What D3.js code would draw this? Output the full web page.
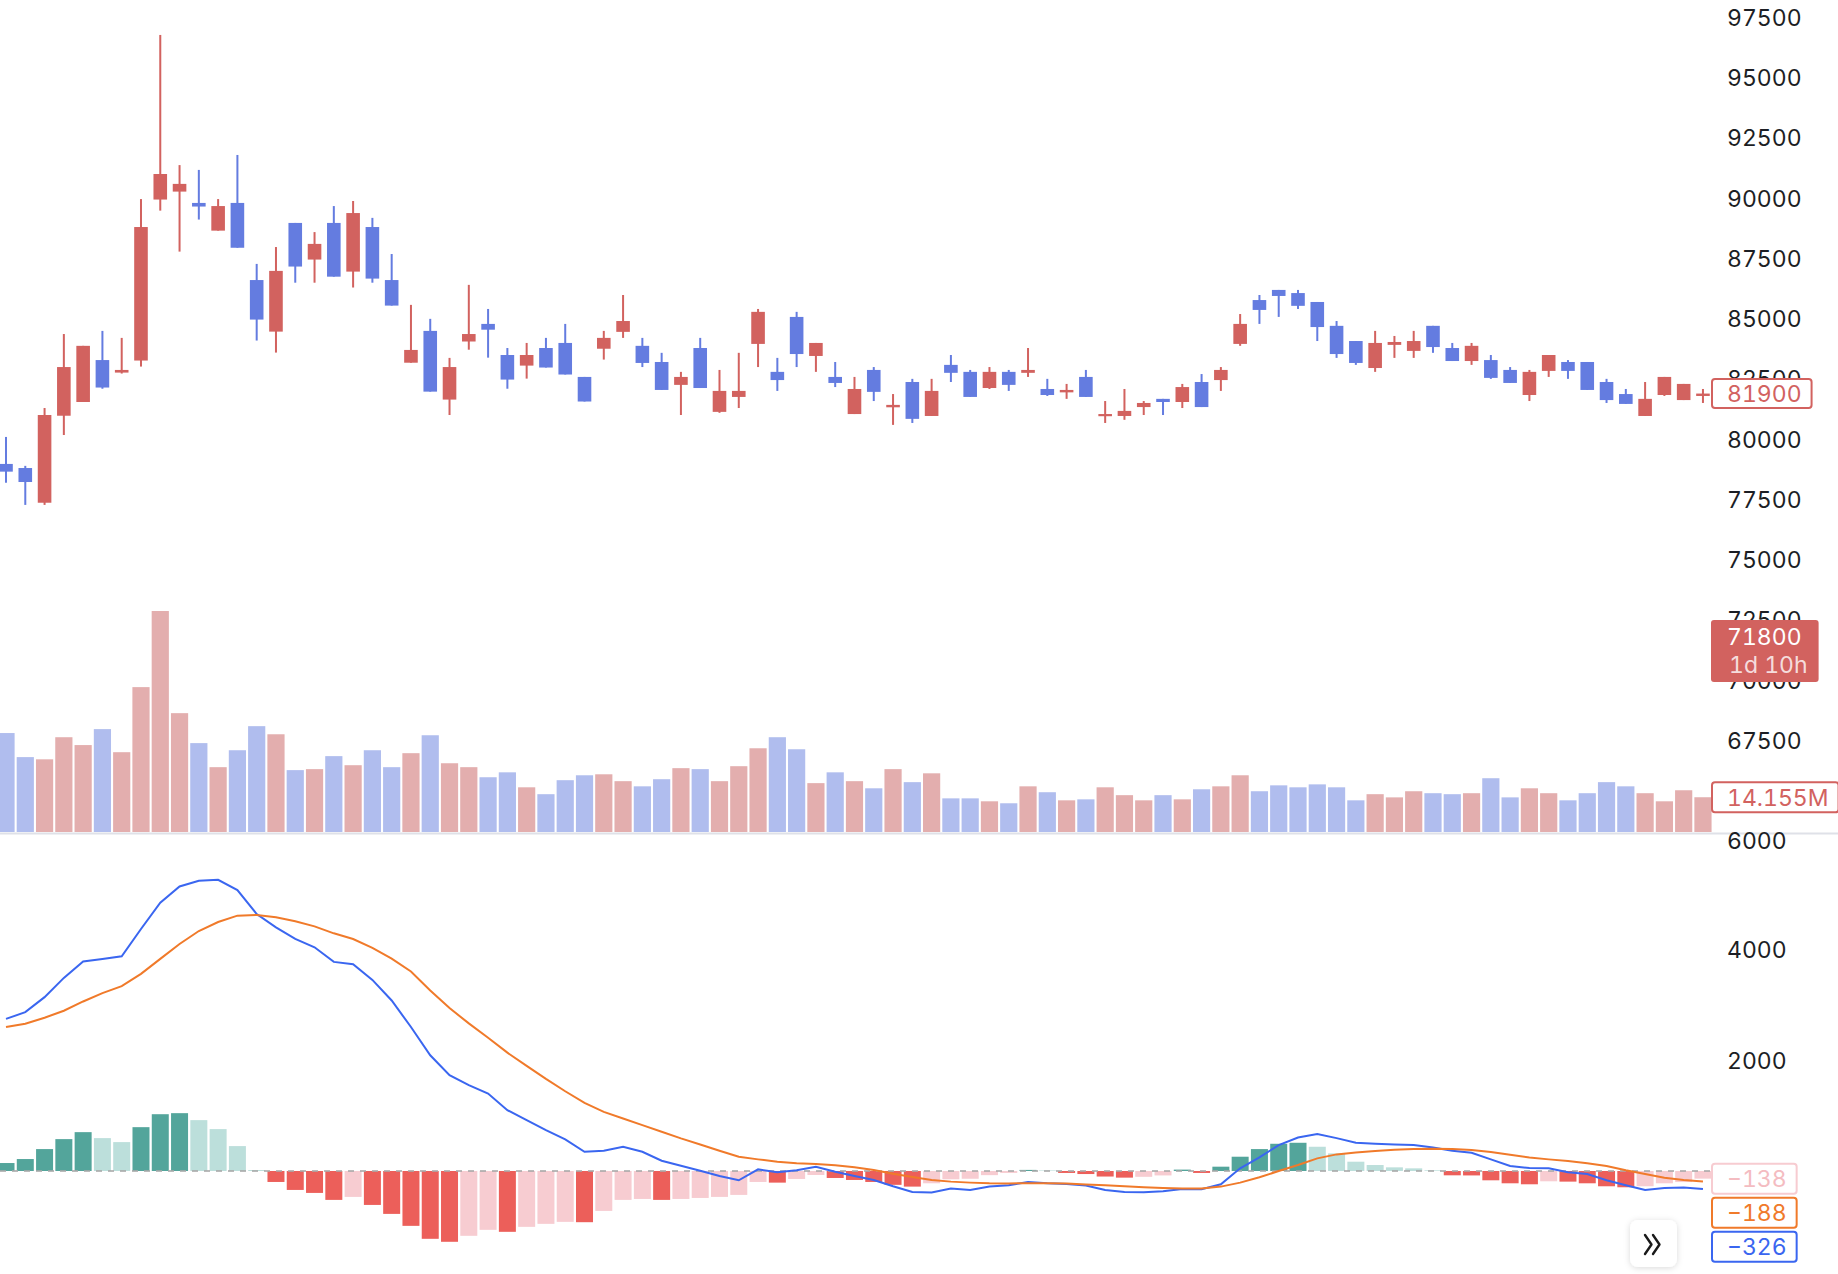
<!DOCTYPE html>
<html>
<head>
<meta charset="utf-8">
<script src="https://cdn.jsdelivr.net/npm/d3@7"></script>
<style>
  html, body { margin: 0; padding: 0; background: #fff; }
  svg { display: block; font-family: Inter, "Noto Sans", sans-serif; font-variant-numeric: tabular-nums; }
</style>
</head>
<body>
<script>
// candles (oldest -> newest)
const opens  = [78980,78810,77370,80980,81550,83290,82770,83270,89950,90280,89810,88660,89810,86610,84470,88980,87460,88980,86960,88810,86610,83180,84500,81650,84060,84790,83500,83060,83790,84000,82590,83760,84460,83880,83210,82260,83790,81140,81760,83960,82800,85080,83460,82590,81050,82880,81330,82380,80970,83090,82800,82130,82800,82760,82090,81950,82590,80960,80970,81340,81680,81550,82380,82460,83960,85780,86200,86070,85700,84710,84080,82960,83920,83670,84710,83790,83250,83290,82880,81840,82840,83210,83210,82380,81880,80970,81840,81630,81800];
const highs  = [80100,78900,81300,84370,83880,84500,84210,89970,96780,91380,91180,89970,91800,87280,87980,88980,88600,89680,89890,89190,87690,85580,85000,83380,86410,85410,83790,84000,84210,84790,82590,84500,85990,84210,83590,82800,84210,82880,83590,85410,83380,85290,84000,83210,82590,83000,81880,82510,82510,83500,82880,83000,82880,83790,82510,82300,82880,81590,82090,81590,81680,82300,82710,83000,85200,85990,86200,86200,85700,84910,84080,84500,84290,84500,84710,84000,84000,83500,83000,82880,83500,83290,83210,82510,82090,82380,82590,82300,82090];
const lows   = [78200,77280,77280,80180,81550,82100,82730,83020,89490,87790,89120,88660,87950,84100,83600,86500,86500,86750,86300,86500,85550,83180,81980,81010,83720,83390,82100,82520,82980,82690,81570,83310,84210,83000,82050,81010,82130,81100,81300,83000,82010,83000,82800,82170,81050,81590,80600,80680,80970,82380,81760,82090,82010,82590,81800,81680,81760,80680,80810,81010,81010,81300,81340,82010,83880,84790,85080,85410,84080,83380,83090,82800,83380,83380,83590,83250,83090,82510,82340,81590,82590,82510,82050,81510,81470,80970,81800,81630,81510];
const closes = [78660,78230,81010,83000,83880,82150,82880,88810,91010,90600,89660,89680,87950,84970,86990,87170,88110,86750,89390,86670,85550,83710,81980,83000,84370,84550,82480,83500,82980,82690,81570,84210,84910,83170,82050,82590,82130,82010,82010,85290,82460,83540,84000,82340,82090,81970,81430,80850,82010,82760,81760,82800,82260,82880,81840,82050,81760,81050,81180,81510,81550,82170,81340,82880,84790,85370,85950,85540,84660,83540,83170,84000,84040,84080,83830,83250,83880,82550,82340,82800,83500,82840,82050,81630,81470,81680,82590,82300,81900];

// volume in millions
const volumes = [40.3,30.5,29.6,38.6,35.4,41.9,32.5,59.0,90.0,48.4,36.2,26.4,33.3,43.1,39.8,25.2,25.6,30.9,27.2,33.3,26.4,32.1,39.4,28.0,26.4,22.3,24.3,18.2,15.4,21.1,23.1,23.5,20.7,18.6,21.5,26.0,25.6,20.7,26.8,34.1,38.6,33.7,19.9,24.3,20.7,17.8,25.6,20.3,23.9,13.7,13.7,12.5,11.7,18.6,16.2,12.9,13.3,18.2,15.0,12.9,15.0,13.3,17.4,18.6,23.1,16.6,19.0,18.2,19.4,18.2,12.9,15.4,14.1,16.6,15.8,15.4,15.8,21.9,14.1,17.8,15.8,12.9,15.8,20.3,18.6,15.8,12.5,17.0,14.155];

// MACD
const dif  = [2748,2871,3141,3489,3784,3832,3880,4372,4847,5141,5243,5261,5075,4643,4403,4192,4042,3778,3736,3453,3081,2601,2090,1730,1550,1399,1099,919,739,571,348,366,438,348,186,96,6,-90,-168,30,-24,12,78,-12,-90,-162,-276,-378,-390,-318,-342,-282,-258,-198,-222,-234,-264,-342,-378,-384,-366,-324,-330,-240,48,246,468,606,666,594,510,492,480,468,426,366,330,210,90,54,48,-24,-54,-168,-258,-342,-306,-300,-326];
const dea  = [2600,2661,2769,2895,3063,3213,3339,3562,3832,4102,4336,4498,4613,4625,4583,4511,4420,4294,4192,4030,3838,3604,3261,2943,2667,2408,2138,1898,1664,1441,1231,1069,949,829,709,589,480,366,258,210,168,138,126,102,66,18,-50,-108,-162,-192,-210,-222,-224,-220,-222,-228,-246,-258,-276,-294,-306,-318,-318,-282,-210,-114,0,108,228,300,336,360,384,396,402,396,378,342,294,246,210,180,138,90,12,-54,-120,-162,-188];
const hist = [144,216,396,576,702,594,522,792,1026,1045,919,757,450,18,-198,-342,-396,-522,-468,-613,-775,-991,-1225,-1279,-1171,-1063,-1099,-1009,-955,-919,-925,-721,-522,-505,-522,-505,-487,-468,-432,-198,-210,-144,-72,-126,-162,-198,-250,-282,-222,-150,-140,-75,-35,20,10,-35,-55,-100,-120,-105,-80,25,-35,78,258,396,492,510,438,318,168,108,66,48,12,-78,-80,-168,-222,-240,-186,-192,-222,-276,-294,-276,-222,-200,-138];

const priceTicks = [97500,95000,92500,90000,87500,85000,82500,80000,77500,75000,72500,70000,67500];
const macdTicks = [6000,4000,2000];
const countdownPrice = 71800;
const countdownText = "1d 10h";

const W = 1838, H = 1274;
const UP = '#d2625f', DOWN = '#647ce0';
const UP_VOL = '#e3aeae', DOWN_VOL = '#b0bdee';
const AXIS_X = 1727, TAG_X = 1711, FONT = 23;

const svg = d3.select('body').append('svg')
  .attr('width', W).attr('height', H);

const defs = svg.append('defs');
const f = defs.append('filter').attr('id', 'shadow')
  .attr('x', '-40%').attr('y', '-40%').attr('width', '180%').attr('height', '180%');
f.append('feDropShadow').attr('dx', 0).attr('dy', 1).attr('stdDeviation', 3)
  .attr('flood-color', '#000').attr('flood-opacity', 0.15);

const n = closes.length;
const x = d3.scaleBand().domain(d3.range(n)).range([-3.64, 1712.6]);
const cx = i => x(i) + x.step() / 2;

const y = d3.scaleLinear().domain([67500, 97500]).range([740.6, 17.6]);
const yV = d3.scaleLinear().domain([0, d3.max(volumes)]).range([832, 611]);
const yM = d3.scaleLinear().domain([0, 4000]).range([1171, 949.6]);

// volume
svg.append('g').selectAll('rect').data(volumes).join('rect')
  .attr('x', (d, i) => cx(i) - 8.6)
  .attr('width', 17.2)
  .attr('y', d => yV(d))
  .attr('height', d => yV(0) - yV(d))
  .attr('fill', (d, i) => closes[i] >= opens[i] ? UP_VOL : DOWN_VOL);

// candles
const candles = svg.append('g').selectAll('g').data(d3.range(n)).join('g')
  .attr('fill', i => closes[i] >= opens[i] ? UP : DOWN);
candles.append('rect')
  .attr('x', i => cx(i) - 1)
  .attr('width', 2)
  .attr('y', i => y(highs[i]))
  .attr('height', i => Math.max(1, y(lows[i]) - y(highs[i])));
candles.append('rect')
  .attr('x', i => cx(i) - 6.8)
  .attr('width', 13.6)
  .attr('y', i => y(Math.max(opens[i], closes[i])))
  .attr('height', i => Math.max(2, Math.abs(y(opens[i]) - y(closes[i]))));

// pane separator
svg.append('rect').attr('x', 0).attr('y', 832.5).attr('width', W).attr('height', 2)
  .attr('fill', '#dfe1e8');

// MACD histogram
const histColor = (d, i) => {
  const prev = i > 0 ? hist[i - 1] : 0;
  if (d >= 0) return d >= prev ? '#53a59b' : '#bcdfdb';
  return d <= prev ? '#ec5f5a' : '#f7ccd1';
};
svg.append('g').selectAll('rect').data(hist).join('rect')
  .attr('x', (d, i) => cx(i) - 8.5)
  .attr('width', 17)
  .attr('y', d => Math.min(yM(d), yM(0)))
  .attr('height', d => Math.abs(yM(d) - yM(0)))
  .attr('fill', histColor);

svg.append('line')
  .attr('x1', 0).attr('x2', 1711)
  .attr('y1', yM(0)).attr('y2', yM(0))
  .attr('stroke', '#a9a9a9').attr('stroke-width', 2)
  .attr('stroke-dasharray', '6 6').attr('opacity', 0.8);

const line = d3.line().x((d, i) => cx(i)).y(d => yM(d));
svg.append('path').datum(dif).attr('d', line)
  .attr('fill', 'none').attr('stroke', '#3a66f0').attr('stroke-width', 2);
svg.append('path').datum(dea).attr('d', line)
  .attr('fill', 'none').attr('stroke', '#f07a2a').attr('stroke-width', 2);

// axis labels
const axisText = svg.append('g')
  .attr('font-size', FONT).attr('fill', '#1c1e24');
axisText.selectAll('text.p').data(priceTicks).join('text').attr('class', 'p')
  .attr('x', AXIS_X).attr('y', d => y(d)).attr('dy', '0.36em')
  .text(d => d);
axisText.selectAll('text.m').data(macdTicks).join('text').attr('class', 'm')
  .attr('x', AXIS_X).attr('y', d => Math.max(yM(d), 841)).attr('dy', '0.36em')
  .text(d => d);

// tags
function tag(top, h, label, opt) {
  const g = svg.append('g');
  const r = g.append('rect').attr('x', TAG_X + 1).attr('y', top + 1)
    .attr('height', h - 2).attr('rx', 3)
    .attr('fill', opt.fill || '#fff')
    .attr('stroke', opt.stroke).attr('stroke-width', 2);
  const t = g.append('text').attr('x', AXIS_X).attr('y', top + h / 2)
    .attr('dy', '0.36em').attr('font-size', FONT).attr('fill', opt.color).text(label);
  const w = t.node().getComputedTextLength();
  r.attr('width', w + 25);
  return g;
}

const fmtM = v => '\u2212' + Math.abs(v);
const last = n - 1;
tag(y(closes[last]) - 15.5, 31, closes[last], { stroke: UP, color: UP });
tag(yV(volumes[last]) - 16, 32, d3.format('.3f')(volumes[last]) + 'M', { stroke: UP, color: UP });

// countdown tag
const cTop = y(countdownPrice) - 17;
const cg = svg.append('g');
const cRect = cg.append('rect').attr('x', TAG_X).attr('y', cTop).attr('height', 62)
  .attr('rx', 3).attr('fill', UP);
cg.append('text').attr('x', AXIS_X).attr('y', cTop + 17).attr('dy', '0.36em')
  .attr('font-size', FONT).attr('fill', '#fff').text(countdownPrice);
const ct = cg.append('text').attr('x', AXIS_X + 2).attr('y', cTop + 45).attr('dy', '0.36em')
  .attr('font-size', FONT).attr('fill', '#fff').attr('fill-opacity', 0.8).text(countdownText);
cRect.attr('width', ct.node().getComputedTextLength() + 29);

// MACD value tags, stacked so they do not overlap
const mTags = [
  { v: hist[last], stroke: '#f7ccd1', color: '#f4bcc1' },
  { v: dea[last], stroke: '#f07a2a', color: '#f07a2a' },
  { v: dif[last], stroke: '#3a66f0', color: '#3a66f0' }
].sort((a, b) => b.v - a.v);
let prevBottom = -Infinity;
mTags.forEach(m => {
  const top = Math.max(yM(m.v) - 16, prevBottom + 2);
  tag(top, 32, m.v < 0 ? fmtM(m.v) : m.v, m);
  prevBottom = top + 32;
});

// scroll-to-end button
svg.append('rect').attr('x', 1630).attr('y', 1220).attr('width', 47).attr('height', 47)
  .attr('rx', 8).attr('fill', '#fff').attr('filter', 'url(#shadow)');
svg.append('path')
  .attr('d', 'M1645,1235L1651.5,1244.5L1645,1254M1653,1235L1659.5,1244.5L1653,1254')
  .attr('fill', 'none').attr('stroke', '#1a1a1a').attr('stroke-width', 2.4)
  .attr('stroke-linecap', 'round').attr('stroke-linejoin', 'round');
</script>
</body>
</html>
